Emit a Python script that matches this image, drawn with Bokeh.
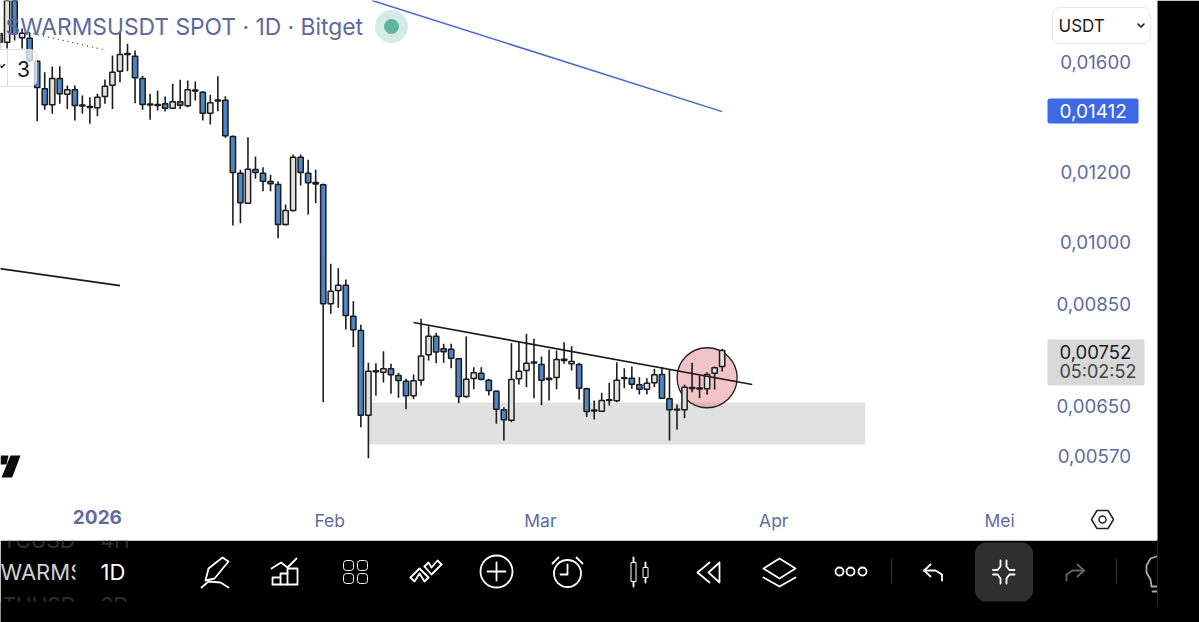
import numpy as np
import pandas as pd
from bokeh.core.properties import value
from bokeh.embed import file_html
from bokeh.resources import INLINE
from bokeh.plotting import figure
from bokeh.models import ColumnDataSource, Range1d, LinearAxis, LogAxis, FixedTicker, LinearScale

# ---------- data ----------
first_day = "2025-12-19"
opens = [.016851,.016851,.019000,.017046,.017028,
 .016033,.014915,.014304,.015323,.014706,.014876,.014297,.014241,.014192,.014618,
 .015057,.015618,.016360,.016245,.015323,.014334,.014315,.014342,.014177,.014416,
 .014267,.014868,.014783,.013993,.014484,.014476,.013165,.011959,.011055,.012075,
 .011959,.011701,.011610,.010456,.010845,.012470,.011959,.011670,.011601,.008496,
 .008796,.008919,.008224,.007921,.006347,.007128,.007103,.007166,.007041,.006936,
 .006677,.006955,.007434,.007804,.007551,.007543,.007356,.006665,.006986,.007084,
 .006955,.006758,.006437,.006264,.006980,.007134,.007295,.007247,.006992,.007004,
 .007348,.007261,.007247,.006800,.006434,.006413,.006609,.006590,.006999,.006992,
 .006872,.006793,.006908,.007060,.006625,.006447,.006437,.006823,.006814,.006800,
 .007084,.007209]
closes = [.017240,.019100,.017226,.017253,.016062,
 .014966,.014304,.015323,.014722,.014876,.014278,.014259,.014203,.014592,.015017,
 .015577,.016317,.016317,.015351,.014315,.014297,.014278,.014177,.014416,.014289,
 .014876,.014829,.013993,.014379,.014446,.013189,.011981,.011067,.012084,.011981,
 .011710,.011631,.010456,.010845,.012470,.011981,.011661,.011625,.008496,.008780,
 .008919,.008239,.007936,.006347,.007121,.007110,.007166,.007054,.006949,.006677,
 .006944,.007408,.007804,.007488,.007492,.007368,.006665,.006973,.007091,.006973,
 .006770,.006447,.006271,.006967,.007121,.007272,.007276,.006955,.006967,.007342,
 .007323,.007304,.006811,.006408,.006417,.006595,.006595,.006955,.006986,.006883,
 .006793,.006901,.007054,.006635,.006437,.006434,.006829,.006805,.006796,.007060,
 .007184,.007520]
highs = [.017260,.019500,.019500,.017466,.017284,
 .016062,.015577,.015812,.015825,.015045,.015045,.014656,.014592,.014722,.015282,
 .016275,.017298,.016780,.016487,.015432,.014722,.014848,.014618,.015112,.015270,
 .015242,.015203,.014821,.014683,.015416,.014630,.013200,.012065,.013141,.012493,
 .012148,.011909,.011701,.011018,.012559,.012559,.012385,.012065,.011640,.009434,
 .009326,.009053,.008553,.008041,.007280,.007272,.007503,.007261,.007091,.006980,
 .007060,.008168,.008012,.007874,.007651,.007651,.007375,.007799,.007196,.007196,
 .006980,.006770,.006481,.007663,.007683,.007854,.007752,.007401,.007531,.007517,
 .007683,.007603,.007280,.006820,.006595,.006730,.006908,.007291,.007177,.007209,
 .007010,.006992,.007166,.007196,.007147,.006527,.006877,.007280,.007041,.007103,
 .007209,.007551]
lows = [.016487,.016575,.016925,.016575,.016000,
 .013702,.014117,.013971,.014342,.014147,.013727,.013971,.013610,.013884,.014342,
 .014147,.015175,.015618,.014364,.014117,.013752,.014091,.014055,.014147,.014147,
 .014215,.014465,.013727,.013585,.014066,.013120,.010429,.010491,.011032,.011784,
 .011407,.011407,.010087,.010429,.010817,.011580,.010733,.011055,.006566,.008276,
 .008407,.007942,.007583,.006150,.005671,.006677,.006913,.006712,.006642,.006447,
 .006618,.006860,.007323,.007272,.007280,.007177,.006549,.006642,.006793,.006949,
 .006682,.006206,.005939,.006231,.006877,.006829,.006635,.006515,.006595,.006793,
 .007261,.007134,.006612,.006314,.006276,.006408,.006510,.006566,.006811,.006800,
 .006700,.006700,.006829,.006630,.005939,.006113,.006297,.006740,.006635,.006695,
 .006788,.007116]

y_ticks = [0.016, 0.012, 0.01, 0.0085, 0.0065, 0.0057]
y_tick_labels = ["0,01600", "0,01200", "0,01000", "0,00850", "0,00650", "0,00570"]
x_ticks = ["2026-02-01", "2026-03-01", "2026-04-01", "2026-05-01"]
x_tick_labels = ["Feb", "Mar", "Apr", "Mei"]
year_tick, year_label = "2026-01-01", "2026"

zone_dates = ["2026-02-06", "2026-04-13"]
zone_prices = [0.006561, 0.005878]
resistance_dates = ["2026-02-12", "2026-03-29"]
resistance_prices = [0.00809, 0.006877]
blue_dates = ["2026-02-06 12:00", "2026-03-25"]
blue_prices = [0.018792, 0.01405]
old_dates = ["2025-12-19", "2026-01-04"]
old_prices = [0.009317, 0.00891]
circle_date, circle_price = "2026-03-23", 0.00700
last_price, last_label, countdown = 0.00752, "0,00752", "05:02:52"
alert_price, alert_label = 0.01412, "0,01412"

def ms(d):
    return pd.Timestamp(d).value // 10**6

DAY = 86400000
W, H = 1199, 622
x0 = ms("2025-12-24")
x_start = x0 + (0 - 36.7) / 7.527 * DAY
x_end = x0 + (W - 36.7) / 7.527 * DAY
y_top = 0.01 * np.exp(241 / 382)
y_bot = 0.01 * np.exp((241 - H) / 382)

p = figure(width=W, height=H, output_backend="svg", toolbar_location=None,
           x_range=Range1d(x_start, x_end), y_range=Range1d(y_bot, y_top),
           y_axis_type="log", x_axis_location=None, y_axis_location=None,
           min_border=0)
p.grid.visible = False
p.outline_line_color = None
p.background_fill_color = "white"
p.border_fill_color = "white"
p.extra_x_ranges["px"] = Range1d(0, W)
p.extra_y_ranges["px"] = Range1d(H, 0)
p.extra_x_scales["px"] = LinearScale()
p.extra_y_scales["px"] = LinearScale()
PX = dict(x_range_name="px", y_range_name="px")
FONT = "Inter"
AXC = "#5f6b9e"

def txt(x, y, s, size, color, align="left", style="normal"):
    p.text([x], [y], text=[s], text_font=value(FONT), text_font_size=f"{size}px", text_color=color,
           text_align=align, text_baseline="middle", text_font_style=style, **PX)

def box(l, t, r, b, fill, line=None, radius=0, alpha=1.0):
    p.quad(left=[l], right=[r], top=[t], bottom=[b], fill_color=fill, fill_alpha=alpha,
           line_color=line, border_radius=radius, **PX)

def ln(xs, ys, color="white", w=1.8):
    p.line(xs, ys, line_color=color, line_width=w, line_join="round", line_cap="round", **PX)

# ---------- app chrome behind the chart ----------
box(0, 540, W, H, "black")
txt(2, 540, "TCUSD", 21, "#303030")
txt(100, 540, "4H", 21, "#303030")
txt(2, 605, "THUSD", 21, "#303030")
txt(100, 605, "3D", 21, "#303030")
box(0, 0, 1157, 540, "white")
box(0, 601, W, H, "black")
txt(0, 571, "WARMS", 22, "#d0d0d0")
box(75, 555, 95, 590, "black")
txt(100, 571, "1D", 22, "white")
box(1157, 0, W, H, "black")

# ---------- drawings under the candles ----------
p.quad(left=[ms(zone_dates[0])], right=[ms(zone_dates[1])], top=[zone_prices[0]], bottom=[zone_prices[1]],
       fill_color="#e1e1e1", line_color=None)
p.scatter([ms(circle_date)], [circle_price], size=60, marker="circle", fill_color="#e58a90",
          fill_alpha=0.5, line_color="#222222", line_width=1.3)
p.line([ms(d) for d in old_dates], old_prices, line_color="#1a1a1a", line_width=1.7)
p.line([ms(d) for d in blue_dates], blue_prices, line_color="#4468cf", line_width=1.5)

# ---------- candles ----------
dates = pd.date_range(first_day, periods=len(opens))
t = [ms(d) for d in dates]
src = ColumnDataSource(dict(
    t=t, o=opens, c=closes, h=highs, l=lows,
    top=[max(a, b) for a, b in zip(opens, closes)],
    bottom=[min(a, b) for a, b in zip(opens, closes)],
    color=["#4a86c8" if b < a else "#e2e2e2" for a, b in zip(opens, closes)],
))
p.segment("t", "h", "t", "l", source=src, line_color="#1c1c1c", line_width=1.6)
p.vbar(x="t", top="top", bottom="bottom", width=0.7 * DAY, source=src, fill_color="color",
       line_color="#1c1c1c", line_width=1.5)
p.line([ms(d) for d in resistance_dates], resistance_prices, line_color="#1a1a1a", line_width=1.7)

# ---------- overlays in the chart pane ----------
p.line([28, 102], [32, 49], line_color="#333333", line_width=1.2, line_dash=[1, 4], **PX)
box(-6, 49, 36, 86, "white", line="#dddddd", radius=6, alpha=0.72)
ln([7, 7], [49, 86], "#dddddd", 1)
ln([-1, 1, 4], [64, 67, 64], "#222222", 1.6)
txt(23, 68, "3", 21, "#1a1a1a", "center")
txt(5, 25.5, "SWARMSUSDT SPOT · 1D · Bitget", 22.8, "#5c689f")
p.scatter([391], [26], size=33, marker="circle", fill_color="#d5ebe6", line_color=None, **PX)
p.scatter([391], [26], size=15, marker="circle", fill_color="#5fb5a2", line_color=None, **PX)
p.patches([[10, 20, 11.7, 1], [0, 8, 6, 0]], [[455, 455, 477, 477], [455, 455, 464, 464]],
          fill_color="#0a0a0a", line_color=None, **PX)

# ---------- axes ----------
yax = LogAxis(fixed_location=x0 + (1130.5 - 36.7) / 7.527 * DAY,
              ticker=FixedTicker(ticks=y_ticks),
              major_label_overrides=dict(zip(y_ticks, y_tick_labels)),
              axis_line_color=None, major_tick_line_color=None, minor_tick_line_color=None,
              major_tick_in=0, major_tick_out=0, major_label_standoff=0,
              major_label_text_font=FONT, major_label_text_font_size="18.7px",
              major_label_text_color=AXC)
p.add_layout(yax, "left")
xpos = 0.01 * np.exp((241 - 509) / 382)
xax = LinearAxis(fixed_location=xpos, ticker=FixedTicker(ticks=[ms(d) - DAY // 7 for d in x_ticks]),
                 major_label_overrides={ms(d) - DAY // 7: s for d, s in zip(x_ticks, x_tick_labels)},
                 axis_line_color=None, major_tick_line_color=None, minor_tick_line_color=None,
                 major_tick_in=0, major_tick_out=0, major_label_standoff=0,
                 major_label_text_font=FONT, major_label_text_font_size="17.5px",
                 major_label_text_color=AXC)
p.add_layout(xax, "below")
yr = LinearAxis(fixed_location=xpos, ticker=FixedTicker(ticks=[ms(year_tick)]),
                major_label_overrides={ms(year_tick): year_label},
                axis_line_color=None, major_tick_line_color=None, minor_tick_line_color=None,
                major_tick_in=0, major_tick_out=0, major_label_standoff=0,
                major_label_text_font=FONT, major_label_text_font_size="19px",
                major_label_text_font_style="bold", major_label_text_color=AXC)
p.add_layout(yr, "below")

# ---------- price tags ----------
box(1052, 7, 1150, 43, "white", line="#e8e8e8", radius=7)
txt(1058, 25, "USDT", 17, "#1a1a1a")
ln([1137.5, 1140.5, 1143.5], [23.5, 26.5, 23.5], "#1a1a1a", 1.6)
box(1047, 98, 1138, 123, "#3d68e6", radius=2)
txt(1059, 110, alert_label, 19, "white")
box(1047, 339, 1144, 385, "#d9d9d9", radius=2)
txt(1059, 351, last_label, 18.5, "#1a1a1a")
txt(1059, 371, countdown, 18, "#444444")
hx = [1091, 1096.5, 1107.5, 1113, 1107.5, 1096.5, 1091]
ln(hx, [519, 510, 510, 519, 528, 528, 519], "#222222", 1.5)
p.scatter([1102], [519], size=7, marker="circle", fill_color="white", line_color="#222222", line_width=1.5, **PX)

# ---------- toolbar icons ----------
ln([205, 208, 222, 228, 214, 205], [580, 568, 557, 561, 578, 580])
ln([201, 208, 220, 228], [587, 581, 582, 587])
ln([271, 280.5, 287, 296], [568, 562, 567, 558])
ln([272, 272, 280, 280, 287, 287, 297, 297, 272], [584, 577, 577, 573, 573, 568, 568, 584, 584])
ln([280, 280], [577, 584]); ln([287, 287], [573, 584])
for gx, gy in [(343, 560), (357, 560), (343, 573), (357, 573)]:
    box(gx, gy, gx + 10, gy + 10, "black", line="white", radius=3)
ln([410, 419, 428], [577, 568, 577]); ln([410, 414, 419, 424, 428], [577, 581, 573, 581, 577])
ln([424, 431, 441], [566, 574, 564]); ln([424, 428, 431, 437, 441], [566, 562, 567, 560, 564])
p.scatter([496], [571], size=32, marker="circle", fill_color=None, line_color="white", line_width=1.8, **PX)
ln([487, 505], [571, 571]); ln([496, 496], [562, 580])
p.scatter([567], [573], size=27, marker="circle", fill_color=None, line_color="white", line_width=1.8, **PX)
ln([567, 567, 560], [564, 574, 574]); ln([552, 558], [563, 557]); ln([582, 576], [563, 557])
ln([633, 633], [557, 586]); ln([645, 645], [562, 582])
box(630.5, 562, 635.5, 581, "black", line="white")
box(642.5, 567, 647.5, 577, "black", line="white")
ln([709, 697, 709], [562, 572, 582]); ln([719, 708, 719, 719], [562, 572, 582, 562])
ln([779, 795, 779, 763, 779], [558, 568, 578, 568, 558]); ln([763, 779, 795], [577, 586, 577])
for dx in [839, 850, 862]:
    p.scatter([dx], [571], size=8, marker="circle", fill_color="black", line_color="white", line_width=1.8, **PX)
ln([891, 891], [558, 583], "#333333", 1); ln([1116, 1116], [558, 583], "#333333", 1)
ln([930, 923.6, 930], [564, 570, 576]); ln([923.6, 935, 941.5, 941.5], [570, 570, 574, 580])
box(974.5, 542, 1032.5, 601, "#2f2f2f", radius=11)
ln([992.5, 997, 1000, 1000], [569.5, 569.5, 566, 560])
ln([1014, 1009, 1006, 1006], [569.5, 569.5, 566, 560])
ln([992.5, 997, 1000, 1000], [574, 574, 578, 583])
ln([1014, 1009, 1006, 1006], [574, 574, 578, 583])
ln([1077, 1083.5, 1077], [564, 570, 576], "#666666"); ln([1083.5, 1072, 1066, 1066], [570, 570, 574, 580], "#666666")
ln([1156, 1150, 1146, 1146, 1150, 1151, 1156], [556, 558, 565, 572, 579, 586, 586], "#aaaaaa")
ln([1152, 1156], [591, 591], "#aaaaaa")
ln([1157, 1157], [540, 605], "#222222", 1)

open("out.html", "w").write(file_html(p, INLINE))
